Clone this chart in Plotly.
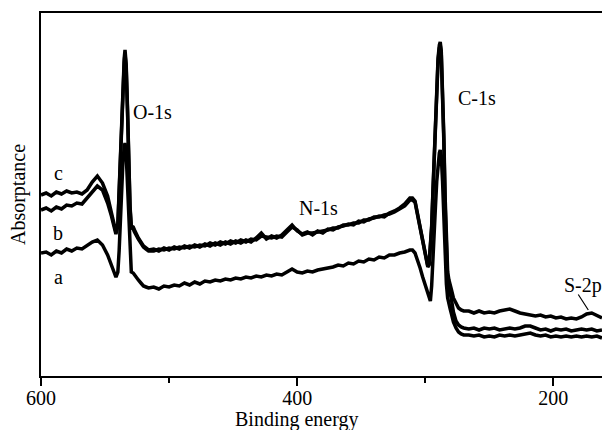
import plotly.graph_objects as go

# Binding energy grid (eV)
energy = [600, 596, 592, 588, 584, 580, 576, 572, 568, 564, 560, 556, 552, 548,
          545, 543, 541.5, 540, 539, 538, 537, 536, 535, 534.4, 533.5, 532.5, 531.5, 530.5, 529.5,
          528, 527, 526, 524, 522, 520, 518, 516,
          512, 508, 504, 500, 496, 492, 488, 484, 480, 476, 472, 468, 464, 460, 456, 452, 448, 444,
          440, 436, 432, 428, 424, 420, 416, 412, 408, 404, 400, 396, 392, 388, 384, 380, 376, 372,
          368, 364, 360, 356, 352, 348, 344, 340, 336, 332, 328, 324, 320, 316, 312,
          310, 308, 306, 304, 302, 300, 298, 297, 296, 295, 294, 293, 292, 291, 290, 289, 288.3,
          287.5, 286.5, 285.5, 284.5, 283.5, 282.5, 281.5, 280.5, 279.5, 278, 276, 274, 272, 270,
          266, 262, 258, 254, 250, 246, 242, 238, 234, 230, 226, 222, 218, 214, 210, 206, 202, 198,
          194, 190, 186, 182, 178, 174, 170, 166, 162]

series_c = [181, 183, 180, 184, 182, 185, 183, 184, 182, 186, 194, 200, 193, 180,
            163, 150, 144, 152, 185, 230, 268, 300, 318, 326, 312, 270, 215, 170, 150,
            149, 146, 143, 138, 134, 130, 128, 126,
            127, 125, 128, 126, 129, 127, 130, 128, 131, 129, 132, 130, 133, 131, 134, 132, 135, 133,
            136, 134, 138, 143, 137, 140, 138, 141, 146, 151, 145, 142, 144, 141, 145, 143, 147, 146,
            149, 150, 152, 151, 155, 154, 157, 158, 160, 159, 163, 165, 168, 172, 178,
            178, 175, 162, 148, 134, 120, 110, 112, 130, 150, 185, 225, 265, 295, 318, 331, 334,
            325, 290, 240, 180, 130, 104, 96, 92, 86, 78, 72, 68, 66, 65,
            65, 63, 65, 63, 64, 63, 65, 66, 67, 65, 63, 62, 61, 60, 61, 59, 60, 58,
            59, 57, 58, 57, 59, 62, 63, 60, 58]

series_b = [166, 168, 165, 169, 167, 171, 170, 173, 172, 178, 185, 190, 186, 173,
            160, 148, 142, 150, 182, 226, 264, 296, 314, 322, 308, 266, 212, 168, 148,
            147, 144, 141, 137, 133, 129, 127, 125,
            125, 127, 126, 128, 127, 129, 128, 130, 129, 131, 130, 133, 131, 134, 132, 135, 133, 136,
            134, 137, 136, 140, 139, 138, 140, 139, 144, 149, 146, 141, 143, 143, 144, 145, 146, 148,
            148, 151, 151, 153, 153, 156, 156, 159, 159, 161, 162, 164, 167, 170, 176,
            176, 174, 161, 147, 133, 119, 109, 111, 128, 148, 183, 222, 262, 292, 315, 328, 331,
            322, 286, 235, 172, 120, 95, 86, 83, 76, 64, 55, 51, 49, 48,
            47, 48, 46, 48, 47, 48, 46, 47, 48, 47, 48, 50, 50, 48, 46, 47, 45, 47,
            46, 47, 45, 46, 47, 46, 47, 45, 46]

series_a = [123, 124, 121, 125, 123, 127, 125, 128, 127, 131, 134, 136, 131, 121,
            112, 104, 99, 104, 125, 160, 190, 215, 229, 233, 222, 190, 150, 115, 104,
            103, 101, 99, 96, 93, 90, 89, 88,
            89, 87, 90, 89, 91, 90, 93, 91, 94, 92, 95, 94, 96, 95, 97, 96, 98, 97,
            99, 98, 100, 99, 101, 100, 102, 101, 104, 107, 104, 103, 105, 104, 106, 107, 108, 109,
            111, 110, 113, 112, 115, 114, 117, 116, 119, 118, 121, 121, 123, 124, 126,
            126, 123, 116, 108, 99, 90, 82, 77, 75, 90, 112, 140, 170, 195, 212, 223, 226,
            220, 195, 160, 120, 92, 78, 71, 67, 62, 54, 48, 44, 42, 41,
            41, 40, 41, 39, 40, 39, 41, 40, 41, 40, 41, 42, 43, 41, 40, 41, 39, 40,
            39, 40, 39, 40, 39, 40, 39, 40, 38]

series_names = ["a", "b", "c"]
x_ticks = [600, 400, 200]

FONT = "Liberation Serif, Times New Roman, serif"

fig = go.Figure()
for name, ys in zip(series_names, [series_a, series_b, series_c]):
    fig.add_trace(go.Scatter(x=energy, y=ys, mode="lines", name=name,
                             line=dict(color="black", width=3.5)))

fig.update_layout(
    width=602, height=430,
    margin=dict(l=41, r=0, t=13, b=54),
    paper_bgcolor="white", plot_bgcolor="white",
    showlegend=False,
    font=dict(family=FONT, size=20, color="black"),
)

fig.update_xaxes(
    range=[600, 162], autorange=False,
    tickmode="array", tickvals=x_ticks, ticktext=[str(v) for v in x_ticks],
    ticks="outside", ticklen=8, tickwidth=1.5, tickcolor="black",
    ticklabelstandoff=-5,
    minor=dict(tickmode="array", tickvals=[500, 300], ticks="outside", ticklen=5,
               tickwidth=1.5, tickcolor="black"),
    showline=True, linecolor="black", linewidth=1.5, mirror=True,
    showgrid=False, zeroline=False,
    tickfont=dict(family=FONT, size=20),
)

fig.update_yaxes(
    range=[0, 363], autorange=False,
    showticklabels=False, ticks="",
    showline=True, linecolor="black", linewidth=1.5, mirror=False,
    showgrid=False, zeroline=False,
    title=dict(text="Absorptance", font=dict(family=FONT, size=20), standoff=8),
    automargin=False,
)

ann_font = dict(family=FONT, size=20, color="black")
annotations = [
    dict(x=400, y=-0.121, xref="x", yref="paper", text="Binding energy", showarrow=False,
         font=ann_font, xanchor="center", yanchor="middle"),
    dict(x=513.3, y=264, text="O-1s", showarrow=False, font=ann_font),
    dict(x=259.4, y=278, text="C-1s", showarrow=False, font=ann_font),
    dict(x=383.6, y=168, text="N-1s", showarrow=False, font=ann_font),
    dict(x=176.6, y=91, text="S-2p", showarrow=False, font=ann_font),
    dict(x=172.7, y=66, ax=-11, ay=-17, text="", showarrow=True, arrowhead=0,
         arrowwidth=1.2, arrowcolor="black"),
    dict(x=586.7, y=203, text="c", showarrow=False, font=ann_font),
    dict(x=586.7, y=143, text="b", showarrow=False, font=ann_font),
    dict(x=586.7, y=99, text="a", showarrow=False, font=ann_font),
]
fig.update_layout(annotations=annotations)

fig.write_html("out.html",
               config={"displayModeBar": False},
               post_script="document.body.style.margin='0';document.body.style.overflow='hidden';")
